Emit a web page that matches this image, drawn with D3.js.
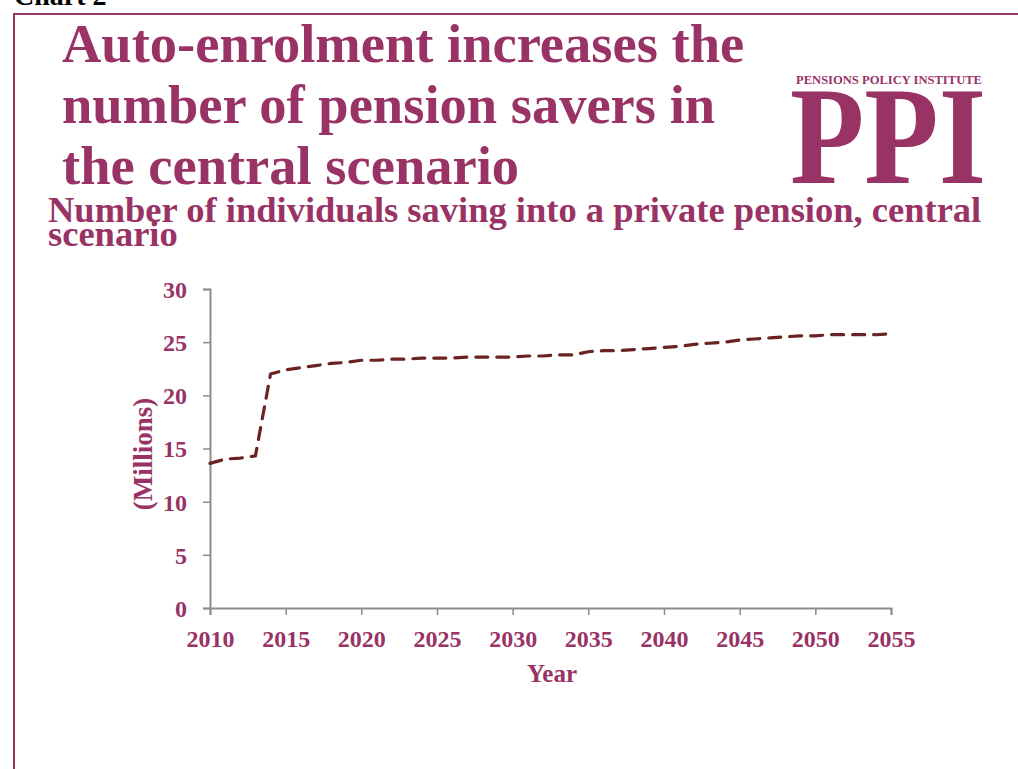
<!DOCTYPE html>
<html>
<head>
<meta charset="utf-8">
<script src="https://cdn.jsdelivr.net/npm/d3@7"></script>
<style>
  html, body { margin: 0; padding: 0; background: #fff; }
  svg { display: block; }
  text { font-family: "Liberation Serif", "Times New Roman", serif; font-weight: bold; }
</style>
</head>
<body>
<svg id="chart" width="1018" height="769"></svg>
<script>
// Private pension savers (millions), central scenario
const years = d3.range(2010, 2056);
const savers = [
  13.6, 14.0, 14.1, 14.3, 22.0, 22.4, 22.6, 22.8, 23.0, 23.1,
  23.3, 23.3, 23.4, 23.4, 23.5, 23.5, 23.5, 23.6, 23.6, 23.6,
  23.6, 23.7, 23.7, 23.8, 23.8, 24.1, 24.2, 24.2, 24.3, 24.4,
  24.5, 24.6, 24.8, 24.9, 25.0, 25.2, 25.3, 25.4, 25.5, 25.6,
  25.6, 25.7, 25.7, 25.7, 25.7, 25.8
];
const xTicks = [2010, 2015, 2020, 2025, 2030, 2035, 2040, 2045, 2050, 2055];
const yTicks = [0, 5, 10, 15, 20, 25, 30];

const brand = "#993366";
const svg = d3.select("#chart");

// page frame
svg.append("path")
  .attr("d", "M14,769 V14 H1018")
  .attr("fill", "none").attr("stroke", brand).attr("stroke-width", 2);

// section label, partly above the frame
svg.append("text").attr("x", 14).attr("y", 5)
  .attr("font-size", 28).attr("fill", "#000").text("Chart 2");

// headline
const title = ["Auto-enrolment increases the", "number of pension savers in", "the central scenario"];
svg.append("g").selectAll("text").data(title).join("text")
  .attr("x", 62).attr("y", (d, i) => 62 + i * 61)
  .attr("font-size", 54.5).attr("fill", brand).text(d => d);

// logo
svg.append("text").attr("x", 796).attr("y", 84)
  .attr("font-size", 11.5).attr("fill", brand)
  .attr("textLength", 186).attr("lengthAdjust", "spacingAndGlyphs")
  .text("PENSIONS POLICY INSTITUTE");
svg.append("text").attr("x", 790).attr("y", 183)
  .attr("font-size", 139).attr("fill", brand)
  .attr("textLength", 196).attr("lengthAdjust", "spacingAndGlyphs")
  .text("PPI");

// chart subtitle
svg.append("text").attr("x", 48).attr("y", 222)
  .attr("font-size", 36.5).attr("fill", brand)
  .text("Number of individuals saving into a private pension, central");
svg.append("text").attr("x", 48).attr("y", 246)
  .attr("font-size", 36.5).attr("fill", brand).text("scenario");

// plot
const x = d3.scaleLinear().domain([2010, 2055]).range([210, 891]);
const y = d3.scaleLinear().domain([0, 30]).range([608, 289]);

const axisColor = "#8c8c8c";

const gx = svg.append("g").attr("transform", `translate(0,${y(0)})`)
  .call(d3.axisBottom(x).tickValues(xTicks).tickFormat(d3.format("d")).tickSize(7).tickPadding(15));
const gy = svg.append("g").attr("transform", `translate(${x(2010)},0)`)
  .call(d3.axisLeft(y).tickValues(yTicks).tickSize(7).tickPadding(16));

[gx, gy].forEach(g => {
  g.select(".domain").attr("stroke", axisColor).attr("stroke-width", 2);
  g.selectAll(".tick line").attr("stroke", axisColor).attr("stroke-width", 1.5);
  g.selectAll(".tick text")
    .attr("fill", brand).attr("font-size", 24)
    .attr("font-family", '"Liberation Serif", serif').attr("font-weight", "bold");
});
gy.selectAll(".tick text").attr("dy", "0.35em");

// axis titles
svg.append("text").attr("x", 552).attr("y", 682)
  .attr("text-anchor", "middle").attr("font-size", 25).attr("fill", brand).text("Year");
svg.append("text")
  .attr("transform", `translate(152,454) rotate(-90)`)
  .attr("text-anchor", "middle").attr("font-size", 27).attr("fill", brand).text("(Millions)");

// series line
const line = d3.line().x((d, i) => x(years[i])).y(d => y(d));
svg.append("path").datum(savers)
  .attr("d", line)
  .attr("fill", "none")
  .attr("stroke", "#6b2222")
  .attr("stroke-width", 3.2)
  .attr("stroke-dasharray", "12,9")
  .attr("stroke-linecap", "round")
  .attr("stroke-linejoin", "round");
</script>
</body>
</html>
